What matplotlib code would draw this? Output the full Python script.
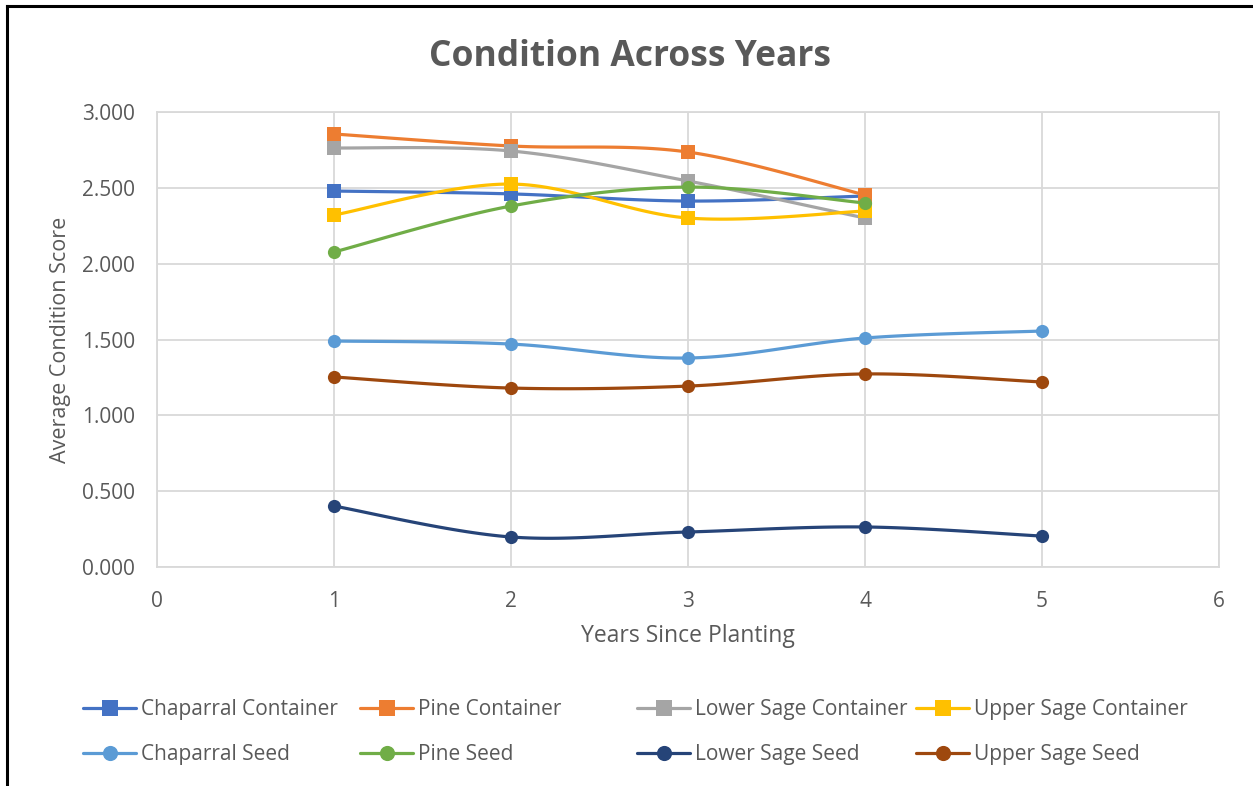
import numpy as np
import matplotlib
matplotlib.use('Agg')
import matplotlib.pyplot as plt
from matplotlib.lines import Line2D

plt.rcParams['font.family'] = ['Open Sans', 'DejaVu Sans']

years_container = [1, 2, 3, 4]
years_seed = [1, 2, 3, 4, 5]

chaparral_container = [2.479, 2.460, 2.413, 2.446]
pine_container = [2.855, 2.776, 2.736, 2.453]
lower_sage_container = [2.763, 2.743, 2.545, 2.301]
upper_sage_container = [2.321, 2.525, 2.301, 2.347]

chaparral_seed = [1.490, 1.470, 1.378, 1.510, 1.556]
pine_seed = [2.077, 2.380, 2.505, 2.400]
lower_sage_seed = [0.402, 0.198, 0.231, 0.264, 0.204]
upper_sage_seed = [1.253, 1.180, 1.193, 1.273, 1.220]

x_ticks = [0, 1, 2, 3, 4, 5, 6]
y_ticks = [0.0, 0.5, 1.0, 1.5, 2.0, 2.5, 3.0]

# name, x, y, colour, marker  (pairs = legend columns)
series = [
    ('Chaparral Container', years_container, chaparral_container, '#4472C4', 's'),
    ('Chaparral Seed', years_seed, chaparral_seed, '#5B9BD5', 'o'),
    ('Pine Container', years_container, pine_container, '#ED7D31', 's'),
    ('Pine Seed', years_container, pine_seed, '#70AD47', 'o'),
    ('Lower Sage Container', years_container, lower_sage_container, '#A5A5A5', 's'),
    ('Lower Sage Seed', years_seed, lower_sage_seed, '#264478', 'o'),
    ('Upper Sage Container', years_container, upper_sage_container, '#FFC000', 's'),
    ('Upper Sage Seed', years_seed, upper_sage_seed, '#9E480E', 'o'),
]
draw_order = [1, 5, 7, 0, 2, 4, 6, 3]


def smooth(x, y, n=30):
    # bezier curve through the points, like excel's smoothed line
    x = np.asarray(x, float)
    y = np.asarray(y, float)
    px = np.concatenate([[x[0]], x, [x[-1]]])
    py = np.concatenate([[y[0]], y, [y[-1]]])
    xs, ys = [x[0]], [y[0]]
    for i in range(1, len(px) - 2):
        p0, p1, p2, p3 = (np.array([px[j], py[j]]) for j in (i - 1, i, i + 1, i + 2))
        c1 = p1 + (p2 - p0) / 6
        c2 = p2 - (p3 - p1) / 6
        t = np.linspace(0, 1, n + 1)[1:, None]
        pts = ((1 - t) ** 3) * p1 + 3 * ((1 - t) ** 2) * t * c1 + 3 * (1 - t) * t ** 2 * c2 + t ** 3 * p2
        xs.extend(pts[:, 0])
        ys.extend(pts[:, 1])
    marks = [k * n for k in range(len(x))]
    return np.array(xs), np.array(ys), marks


fig = plt.figure(figsize=(12.53, 7.86), dpi=100)
ax = fig.add_axes([0.1253, 0.2786, 0.8476, 0.5789])

handles = {}
for idx in draw_order:
    name, xv, yv, col, mk = series[idx]
    xs, ys, marks = smooth(xv, yv)
    ms = 10 if mk == 's' else 9.5
    line, = ax.plot(xs, ys, color=col, lw=2.3, marker=mk, markersize=ms,
                    markevery=marks, markeredgewidth=0, label=name,
                    solid_capstyle='round')
    handles[idx] = line

ax.set_xlim(0, 6)
ax.set_ylim(0, 3)
ax.set_xticks(x_ticks)
ax.set_yticks(y_ticks)
ax.set_yticklabels(['%.3f' % v for v in y_ticks])
ax.grid(True, color='#D9D9D9', lw=1.3)
ax.set_axisbelow(True)
for s in ax.spines.values():
    s.set_color('#D9D9D9')
    s.set_linewidth(1.3)
ax.tick_params(length=0, labelsize=15, labelcolor='#595959')
ax.tick_params(axis='x', pad=17)
ax.tick_params(axis='y', pad=16)

ax.set_xlabel('Years Since Planting', fontsize=16.5, color='#595959', labelpad=9)
ax.set_ylabel('Average Condition Score', fontsize=15.5, color='#595959', labelpad=8)
fig.text(0.503, 0.927, 'Condition Across Years', ha='center', va='center',
         fontsize=25.5, fontweight='bold', color='#595959')

# one legend per column so the columns sit evenly like excel's
col_x = [83, 360, 637, 916]
for c in range(4):
    pair = [2 * c, 2 * c + 1]
    leg = fig.legend([handles[i] for i in pair], [series[i][0] for i in pair],
                     loc='center left', bbox_to_anchor=(col_x[c] / 1253, 0.0688),
                     frameon=False, fontsize=15, labelcolor='#595959',
                     handlelength=2.55, handletextpad=0.25, labelspacing=1.15,
                     borderpad=0, borderaxespad=0, markerscale=1.15)

# black outline on the left and top edges of the picture
fig.add_artist(Line2D([7 / 1253, 7 / 1253], [0, 1 - 6 / 786], color='black', lw=2.2,
                      transform=fig.transFigure))
fig.add_artist(Line2D([7 / 1253, 1], [1 - 6 / 786, 1 - 6 / 786], color='black', lw=2.2,
                      transform=fig.transFigure))

fig.savefig('out.png', dpi=100)
